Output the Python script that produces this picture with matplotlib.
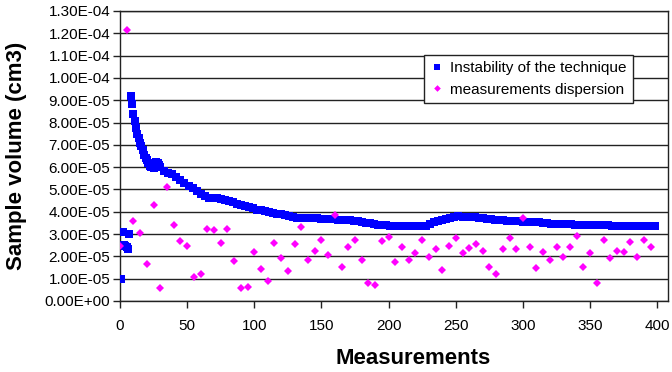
import matplotlib
matplotlib.use("Agg")
import matplotlib.pyplot as plt
from matplotlib.ticker import MultipleLocator, FuncFormatter

plt.rcParams['font.family'] = ['Liberation Sans', 'DejaVu Sans']

# Instability of the technique (values in 1e-5 cm3)
blue_x = [1, 2, 3, 4, 5, 6, 7,
          8, 9, 10, 11, 12, 13, 14, 15, 16, 17, 18, 19, 20, 21, 22, 23, 24, 25,
          26, 27, 28, 29, 30,
          33, 36, 39, 42, 45, 48, 51, 54, 57, 60, 63, 66, 69, 72, 75, 78, 81,
          84, 87, 90, 93, 96, 99, 102, 105, 108, 111, 114, 117, 120, 123, 126,
          129, 132, 135, 138, 141, 144, 147, 150, 153, 156, 159, 162, 165, 168,
          171, 174, 177, 180, 183, 186, 189, 192, 195, 198, 201, 204, 207, 210,
          213, 216, 219, 222, 225, 228, 231, 234, 237, 240, 243, 246, 249, 252,
          255, 258, 261, 264, 267, 270, 273, 276, 279, 282, 285, 288, 291, 294,
          297, 300, 303, 306, 309, 312, 315, 318, 321, 324, 327, 330, 333, 336,
          339, 342, 345, 348, 351, 354, 357, 360, 363, 366, 369, 372, 375, 378,
          381, 384, 387, 390, 393, 396, 398]
blue_y = [1.0, 3.1, 2.5, 2.45, 2.4, 2.35, 3.0,
          9.2, 8.85, 8.4, 8.05, 7.75, 7.5, 7.3, 7.1, 6.95, 6.75, 6.55, 6.4, 6.3,
          6.2, 6.05, 6.0, 6.0, 5.98, 6.15, 6.22, 6.2, 6.1, 6.0,
          5.85, 5.75, 5.68, 5.55, 5.42, 5.28, 5.17, 5.05, 4.92, 4.8, 4.7, 4.63,
          4.62, 4.6, 4.56, 4.53, 4.5, 4.42, 4.35, 4.3, 4.25, 4.2, 4.15, 4.1,
          4.07, 4.03, 4.0, 3.96, 3.92, 3.88, 3.84, 3.8, 3.77, 3.74, 3.73, 3.72,
          3.71, 3.7, 3.7, 3.69, 3.68, 3.67, 3.66, 3.65, 3.64, 3.63, 3.62, 3.6,
          3.57, 3.54, 3.51, 3.48, 3.45, 3.42, 3.4, 3.39, 3.38, 3.37, 3.37, 3.36,
          3.35, 3.34, 3.34, 3.34, 3.35, 3.38, 3.45, 3.52, 3.58, 3.62, 3.66, 3.7,
          3.76, 3.79, 3.78, 3.77, 3.76, 3.75, 3.73, 3.7, 3.68, 3.66, 3.64, 3.62,
          3.61, 3.6, 3.59, 3.58, 3.57, 3.56, 3.55, 3.54, 3.53, 3.52, 3.5, 3.48,
          3.47, 3.46, 3.45, 3.44, 3.43, 3.43, 3.42, 3.42, 3.41, 3.41, 3.41, 3.4,
          3.4, 3.39, 3.39, 3.38, 3.38, 3.37, 3.37, 3.37, 3.36, 3.36, 3.36, 3.36,
          3.36, 3.36, 3.36]

# Measurements dispersion (values in 1e-5 cm3)
mag_x = list(range(0, 400, 5))
mag_y = [2.47, 12.15, 3.6, 3.03, 1.64, 4.29, 0.6, 5.13, 3.41, 2.7,
         2.47, 1.09, 1.2, 3.21, 3.18, 2.62, 3.21, 1.79, 0.6, 0.64,
         2.18, 1.42, 0.91, 2.62, 1.93, 1.35, 2.55, 3.3, 1.84, 2.24,
         2.74, 2.06, 3.86, 1.54, 2.44, 2.74, 1.84, 0.82, 0.72, 2.69,
         2.88, 1.76, 2.44, 1.84, 2.17, 2.74, 1.96, 2.32, 1.39, 2.48,
         2.84, 2.16, 2.36, 2.54, 2.26, 1.54, 1.2, 2.32, 2.84, 2.32,
         3.71, 2.41, 1.49, 2.21, 1.84, 2.41, 1.96, 2.41, 2.93, 1.54,
         2.17, 0.82, 2.74, 1.91, 2.26, 2.21, 2.63, 1.96, 2.74, 2.41]

scale = 1e-5
fig = plt.figure(figsize=(6.72, 3.72), dpi=100)
ax = fig.add_axes([120/672, 1-301/372, (668-120)/672, (301-11)/372])

ax.plot(blue_x, [v*scale for v in blue_y], linestyle='none', marker='s',
        markersize=5.2, color='#0000FF', markeredgewidth=0,
        label='Instability of the technique', zorder=3)
ax.plot(mag_x, [v*scale for v in mag_y], linestyle='none', marker='D',
        markersize=4.5, color='#FF00FF', markeredgewidth=0,
        label='measurements dispersion', zorder=4)

ax.set_xlim(0, 408)
ax.set_ylim(0, 1.3e-4)
ax.xaxis.set_major_locator(MultipleLocator(50))
ax.yaxis.set_major_locator(MultipleLocator(1e-5))
ax.yaxis.set_major_formatter(FuncFormatter(lambda v, p: f"{v:.2E}"))
ax.grid(axis='y', color='#222222', linewidth=1.0)
ax.set_axisbelow(True)
for s in ['left', 'bottom', 'right', 'top']:
    ax.spines[s].set_color('#222222')
    ax.spines[s].set_linewidth(1.0)
ax.tick_params(axis='both', direction='out', length=5, width=1,
               labelsize=11, color='#222222')
ax.tick_params(axis='x', pad=8)
ax.tick_params(axis='y', pad=2)

fig.text(413/672, 1-358/372, 'Measurements', fontsize=16, fontweight='bold',
         ha='center', va='center')
fig.text(17/672, 1-156/372, 'Sample volume (cm3)', fontsize=16,
         fontweight='bold', rotation=90, ha='center', va='center')

leg = ax.legend(loc='upper right', bbox_to_anchor=(633/672, 1-55/372),
                bbox_transform=fig.transFigure, borderaxespad=0,
                fontsize=11, frameon=True, fancybox=False, framealpha=1,
                edgecolor='#222222', handlelength=0.8, handletextpad=0.5,
                borderpad=0.4, labelspacing=0.5, markerscale=0.75)
leg.get_frame().set_linewidth(1.0)

fig.savefig('out.png', dpi=100)
